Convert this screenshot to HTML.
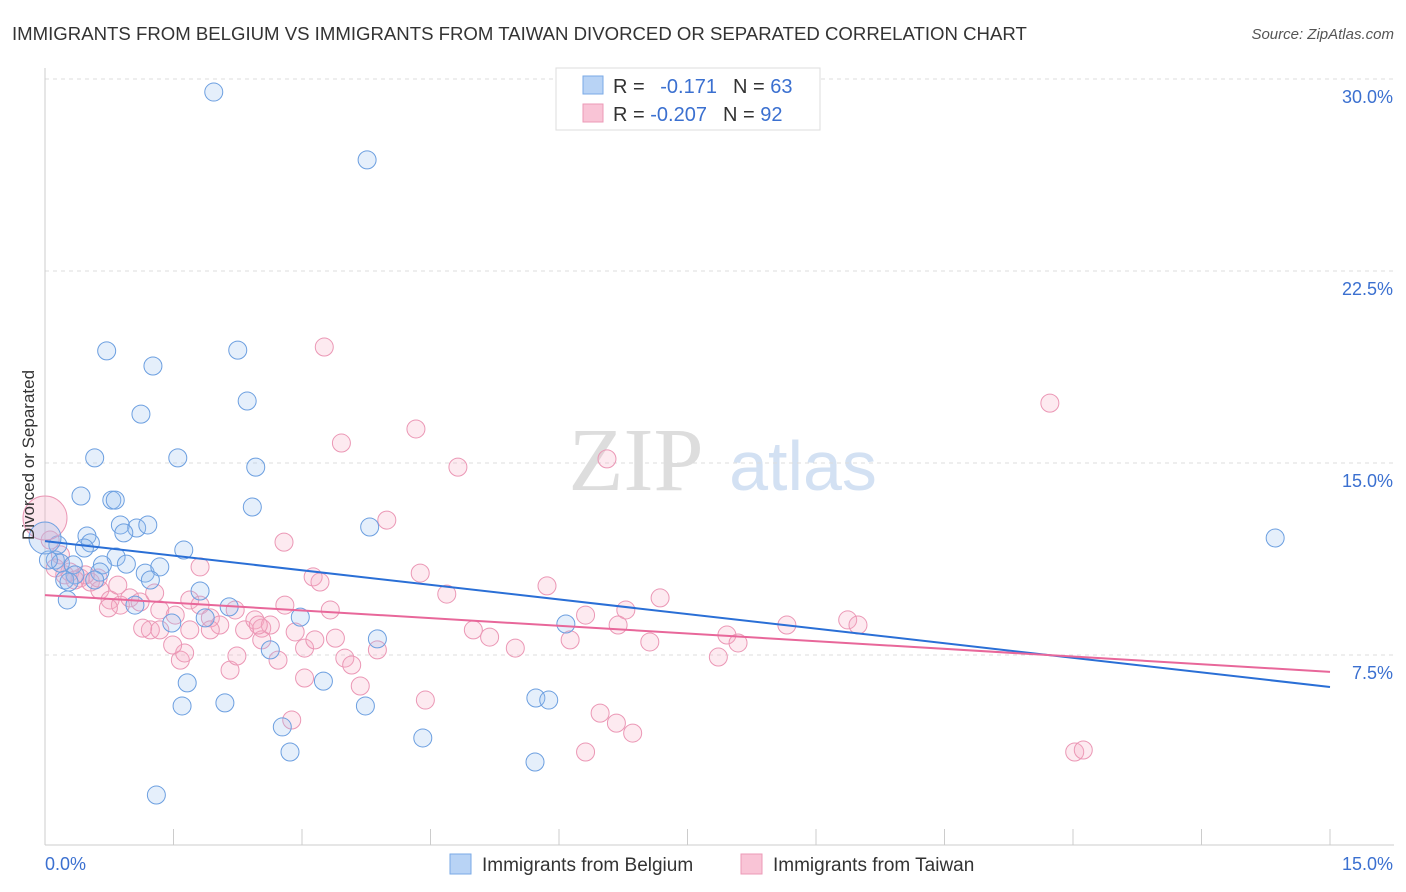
<!DOCTYPE html>
<html><head><meta charset="utf-8"><style>
body{margin:0;background:#fff;font-family:"Liberation Sans",sans-serif}
svg{display:block}
</style></head><body>
<svg id="chart" width="1406" height="892">
<text x="12" y="40" font-size="18.6" fill="#333">IMMIGRANTS FROM BELGIUM VS IMMIGRANTS FROM TAIWAN DIVORCED OR SEPARATED CORRELATION CHART</text>
<text x="1394" y="39" font-size="15" fill="#555" font-style="italic" text-anchor="end">Source: ZipAtlas.com</text>
<g>
<text x="636" y="490" font-size="90" fill="#ddd" font-family="Liberation Serif,serif" text-anchor="middle">ZIP</text>
<text x="803" y="490" font-size="70" fill="#d3e1f3" text-anchor="middle">atlas</text>
</g>
<g id="grid"></g><g id="axes"></g><g id="marks"></g>
<text transform="translate(34,455) rotate(-90)" font-size="17" fill="#333" text-anchor="middle">Divorced or Separated</text>
<g>
<rect x="556" y="68" width="264" height="62" fill="#fff" stroke="#ddd"/>
<rect x="583" y="76" width="20" height="18" fill="#b8d3f5" stroke="#7aaae6"/>
<rect x="583" y="104" width="20" height="18" fill="#f9c4d6" stroke="#ec9ab7"/>
<text x="613" y="93" font-size="20" fill="#333">R = <tspan fill="#3b70d0" dx="10">-0.171</tspan><tspan dx="16" fill="#333">N = </tspan><tspan fill="#3b70d0">63</tspan></text>
<text x="613" y="121" font-size="20" fill="#333">R = <tspan fill="#3b70d0">-0.207</tspan><tspan dx="16" fill="#333">N = </tspan><tspan fill="#3b70d0">92</tspan></text>
</g>
<g>
<rect x="450" y="854" width="21" height="20" fill="#b8d3f5" stroke="#7aaae6"/>
<text x="482" y="871" font-size="19" fill="#333">Immigrants from Belgium</text>
<rect x="741" y="854" width="21" height="20" fill="#f9c4d6" stroke="#ec9ab7"/>
<text x="773" y="871" font-size="19" fill="#333">Immigrants from Taiwan</text>
</g>
</svg>
<script>
const yTicks=[7.5,15,22.5,30];
const yTickLabels=["7.5%","15.0%","22.5%","30.0%"];
const xTicks=[0,1.5,3,4.5,6,7.5,9,10.5,12,13.5,15];
const belgiumX=[1.97,3.76,0.72,2.25,1.26,2.36,1.12,0.58,1.55,2.46,0.42,0.78,0.82,2.42,0.88,1.07,1.20,0.92,3.79,0.49,0.53,0.46,1.62,0.12,0.18,0.83,0.33,0.67,0.95,1.17,1.34,0.64,1.23,0.35,0.23,0.28,0.26,1.81,2.15,1.05,2.98,1.48,1.87,6.08,3.88,2.63,1.66,3.25,1.60,2.10,3.74,5.73,5.88,2.77,4.41,2.86,5.72,1.30,14.36,0.04,0.15,0.58];
const belgiumY=[29.49,26.84,19.38,19.41,18.79,17.42,16.91,15.20,15.20,14.84,13.71,13.55,13.55,13.28,12.58,12.46,12.58,12.27,12.50,12.15,11.88,11.68,11.60,11.21,11.09,11.33,11.02,11.02,11.05,10.70,10.94,10.74,10.43,10.63,10.43,10.35,9.65,10.00,9.38,9.45,8.98,8.75,8.95,8.71,8.13,7.70,6.41,6.48,5.51,5.63,5.51,5.82,5.74,4.69,4.26,3.71,3.32,2.03,12.07,11.21,11.80,10.43];
const taiwanX=[3.26,11.73,4.33,3.46,6.56,4.82,3.99,2.79,0.06,0.18,0.23,0.41,0.53,0.64,0.76,0.88,0.99,1.11,1.28,1.34,1.52,1.69,1.81,1.93,2.04,2.22,2.33,2.45,2.53,2.63,2.80,2.92,3.03,3.15,3.33,3.39,3.50,3.58,3.68,3.13,1.81,4.38,4.69,5.86,6.31,6.78,7.18,6.69,5.00,5.19,5.49,6.13,7.06,7.96,8.09,8.66,9.37,9.49,7.86,4.44,2.88,6.48,6.67,6.86,6.31,12.02,12.12,1.58,1.63,2.16,2.24,2.72,3.03,3.88,1.23,1.34,1.14,0.85,0.74,0.62,0.47,0.29,0.12,0.35,1.49,1.93,2.53,2.49,3.21,1.69];
const taiwanY=[19.53,17.34,16.33,15.78,15.16,14.84,12.77,11.91,11.99,11.41,10.63,10.51,10.35,10.04,9.65,9.45,9.73,9.57,9.92,9.26,9.06,9.65,9.45,8.95,8.67,9.26,8.48,8.87,8.55,8.67,9.45,8.40,7.77,8.09,9.26,8.16,7.38,7.11,6.29,10.55,10.94,10.70,9.88,10.20,9.06,9.26,9.73,8.67,8.48,8.20,7.77,8.09,8.01,8.28,7.97,8.67,8.87,8.67,7.42,5.74,4.96,5.23,4.84,4.45,3.71,3.71,3.79,7.30,7.58,6.91,7.46,7.30,6.60,7.70,8.48,8.48,8.55,10.23,9.34,10.51,10.63,10.74,10.90,10.43,7.89,8.48,8.09,8.67,10.35,8.48];
const belgiumBig=[0,12.07];
const taiwanBig=[0,12.85];
const belgiumTrend=[11.95,6.25];
const taiwanTrend=[9.84,6.84];
const NS="http://www.w3.org/2000/svg";
const sx=v=>45+v*(1285/15);
const sy=v=>847-v*25.6;
function mk(t,a,p){const e=document.createElementNS(NS,t);for(const k in a)e.setAttribute(k,a[k]);p.appendChild(e);return e;}
const grid=document.getElementById('grid'),axes=document.getElementById('axes'),marks=document.getElementById('marks');
yTicks.forEach((v,i)=>{
 const l=mk('line',{x1:45,x2:1394,y1:sy(v),y2:sy(v),stroke:'#ddd','stroke-dasharray':'4,4'},grid);
 
 
 const t=mk('text',{x:1393,y:sy(v)+24,'font-size':18,fill:'#3b70d0','text-anchor':'end'},axes);
 t.textContent=yTickLabels[i];
 
 
});
const ax=mk('line',{x1:45,x2:1394,y1:845,y2:845,stroke:'#ccc'},axes);


const ay=mk('line',{x1:45,x2:45,y1:68,y2:845,stroke:'#ccc'},axes);


xTicks.forEach(v=>{const l=mk('line',{x1:sx(v),x2:sx(v),y1:829,y2:845,stroke:'#ccc'},axes);
 
 });
[[0,'0.0%','start',45],[15,'15.0%','end',1393]].forEach(a=>{const t=mk('text',{x:a[3],y:870,'font-size':18,fill:'#3b70d0','text-anchor':a[2]},axes);t.textContent=a[1];
 
 });
function pts(X,Y,fill,stroke,name){X.forEach((x,i)=>{const c=mk('circle',{cx:sx(x),cy:sy(Y[i]),r:9,fill:fill,stroke:stroke,'stroke-width':1},marks);
 
 });}
pts(taiwanX,taiwanY,'rgba(246,170,197,0.25)','#eb97b5','taiwan-point');
pts(belgiumX,belgiumY,'rgba(150,190,240,0.25)','#6c9fe0','belgium-point');
let b1=mk('circle',{cx:sx(taiwanBig[0]),cy:sy(taiwanBig[1]),r:22,fill:'rgba(246,170,197,0.3)',stroke:'#eb97b5'},marks);


let b2=mk('circle',{cx:sx(belgiumBig[0]),cy:sy(belgiumBig[1]),r:16,fill:'rgba(150,190,240,0.3)',stroke:'#6c9fe0'},marks);


let t1=mk('line',{x1:sx(0),y1:sy(belgiumTrend[0]),x2:sx(15),y2:sy(belgiumTrend[1]),stroke:'#2a6fd6','stroke-width':2},marks);


let t2=mk('line',{x1:sx(0),y1:sy(taiwanTrend[0]),x2:sx(15),y2:sy(taiwanTrend[1]),stroke:'#e8679a','stroke-width':2},marks);


</script>
</body></html>
